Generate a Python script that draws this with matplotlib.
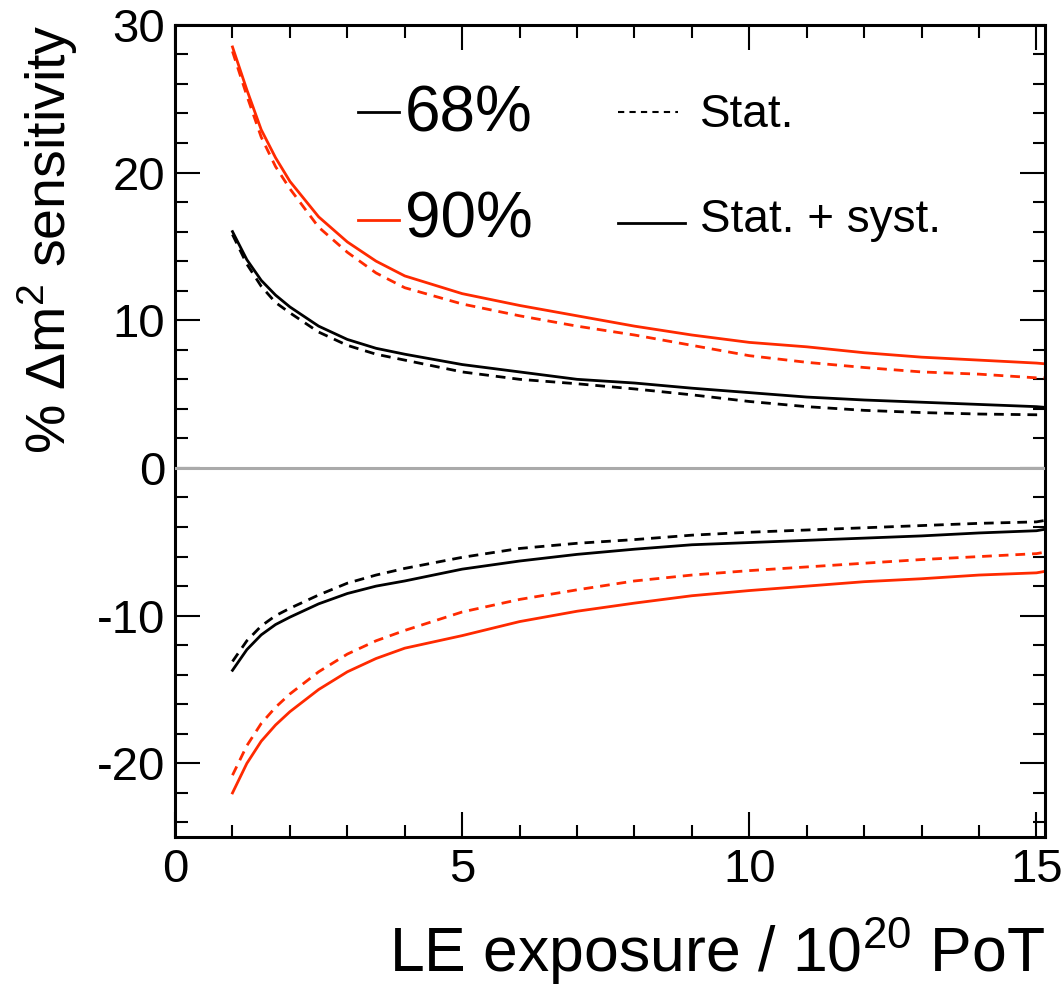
import numpy as np
import matplotlib
matplotlib.use("Agg")
import matplotlib.pyplot as plt
from matplotlib.lines import Line2D
from matplotlib.ticker import MultipleLocator

plt.rcParams['font.family'] = ['Liberation Sans', 'DejaVu Sans']
plt.rcParams['axes.unicode_minus'] = False
plt.rcParams['mathtext.fontset'] = 'custom'
plt.rcParams['mathtext.rm'] = 'Liberation Sans'

# exposure points (10^20 PoT)
exposure = [1, 1.25, 1.5, 1.75, 2, 2.5, 3, 3.5, 4, 5, 6, 7, 8, 9, 10, 11, 12, 13, 14, 15, 15.15]

# upper edges (%)
up68_stat = [15.8, 13.8, 12.3, 11.2, 10.5, 9.2, 8.3, 7.7, 7.3, 6.5, 6.0, 5.7, 5.35, 4.95, 4.5, 4.15, 3.9, 3.75, 3.65, 3.6, 3.6]
up68_syst = [16.0, 14.1, 12.7, 11.7, 10.9, 9.6, 8.7, 8.1, 7.7, 7.0, 6.5, 6.0, 5.75, 5.4, 5.1, 4.8, 4.6, 4.45, 4.3, 4.15, 4.1]
up90_stat = [28.2, 25.2, 22.4, 20.4, 18.9, 16.3, 14.6, 13.2, 12.2, 11.1, 10.3, 9.6, 9.0, 8.3, 7.6, 7.15, 6.8, 6.5, 6.35, 6.1, 6.1]
up90_syst = [28.5, 25.6, 22.9, 21.0, 19.4, 17.0, 15.3, 14.0, 13.0, 11.8, 11.0, 10.3, 9.6, 9.0, 8.5, 8.2, 7.8, 7.5, 7.3, 7.1, 7.05]

# lower edges (%)
lo68_stat = [-13.1, -11.7, -10.7, -10.0, -9.5, -8.6, -7.8, -7.25, -6.8, -6.05, -5.45, -5.1, -4.85, -4.55, -4.35, -4.2, -4.05, -3.9, -3.75, -3.65, -3.55]
lo68_syst = [-13.7, -12.3, -11.3, -10.6, -10.1, -9.2, -8.5, -8.0, -7.65, -6.85, -6.3, -5.85, -5.5, -5.2, -5.05, -4.9, -4.75, -4.6, -4.4, -4.25, -4.15]
lo90_stat = [-20.8, -18.8, -17.3, -16.2, -15.3, -13.8, -12.6, -11.7, -11.0, -9.75, -8.9, -8.25, -7.65, -7.25, -6.95, -6.7, -6.45, -6.2, -6.0, -5.8, -5.7]
lo90_syst = [-22.0, -20.0, -18.5, -17.4, -16.5, -15.0, -13.8, -12.9, -12.2, -11.35, -10.4, -9.7, -9.15, -8.65, -8.3, -8.0, -7.7, -7.5, -7.25, -7.1, -7.0]

red = '#ff2a00'
dash = (0, (3.5, 2.5))

fig = plt.figure(figsize=(10.61, 9.92), dpi=100)
ax = fig.add_axes([0.165, 0.156, 0.820, 0.819])

ax.axhline(0, color='#aaaaaa', lw=2.2, zorder=3)

ax.plot(exposure, up68_stat, color='black', lw=2, ls=dash)
ax.plot(exposure, up68_syst, color='black', lw=2)
ax.plot(exposure, up90_stat, color=red, lw=2, ls=dash)
ax.plot(exposure, up90_syst, color=red, lw=2)
ax.plot(exposure, lo68_stat, color='black', lw=2, ls=dash)
ax.plot(exposure, lo68_syst, color='black', lw=2)
ax.plot(exposure, lo90_stat, color=red, lw=2, ls=dash)
ax.plot(exposure, lo90_syst, color=red, lw=2)

ax.set_xlim(0, 15.15)
ax.set_ylim(-25, 30)
ax.xaxis.set_major_locator(MultipleLocator(5))
ax.xaxis.set_minor_locator(MultipleLocator(1))
ax.yaxis.set_major_locator(MultipleLocator(10))
ax.yaxis.set_minor_locator(MultipleLocator(2))
ax.tick_params(which='both', direction='in', top=True, right=True, width=1.5)
ax.tick_params(which='major', length=18, labelsize=34)
ax.tick_params(axis='x', which='major', pad=8)
ax.tick_params(axis='y', which='major', pad=7)
ax.tick_params(which='minor', length=9)
for s in ax.spines.values():
    s.set_linewidth(2.2)

ax.set_xlabel(r'LE exposure / 10$^{20}$ PoT', fontsize=45, loc='right', labelpad=16)
ax.set_ylabel(r'% $\Delta$m$^{2}$ sensitivity', fontsize=40, loc='top', labelpad=12)

# legend drawn by hand in figure coordinates
W, H = 1061.0, 992.0
def fline(x0, x1, y, **kw):
    fig.add_artist(Line2D([x0 / W, x1 / W], [1 - y / H, 1 - y / H], **kw))

fline(358, 399, 112, color='black', lw=2)
fig.text(405 / W, 1 - 132 / H, '68%', fontsize=46, va='baseline', ha='left')
fline(358, 399, 220, color=red, lw=2)
fig.text(405 / W, 1 - 237 / H, '90%', fontsize=46, va='baseline', ha='left')
fline(618, 678, 112, color='black', lw=1.5, ls=(0, (3, 2.5)))
fig.text(700 / W, 1 - 127 / H, 'Stat.', fontsize=33, va='baseline', ha='left')
fline(618, 685, 223, color='black', lw=2)
fig.text(700 / W, 1 - 232 / H, 'Stat. + syst.', fontsize=33, va='baseline', ha='left')

fig.savefig('out.png', dpi=100)
